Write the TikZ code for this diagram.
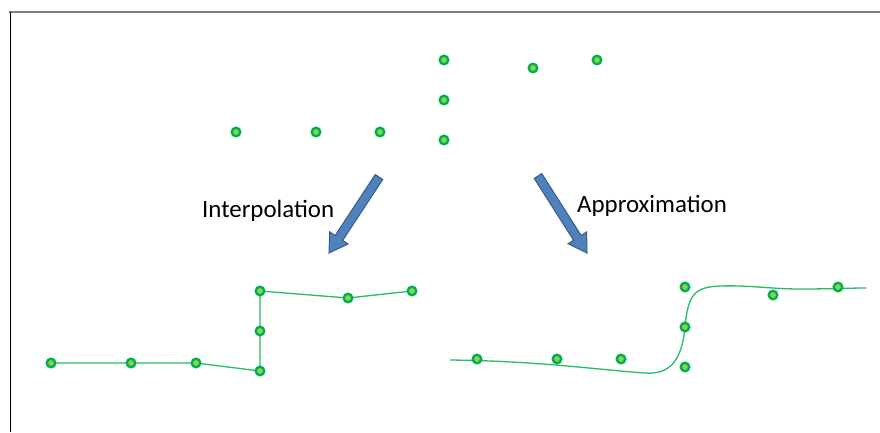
\documentclass[tikz,border=0pt]{standalone}
\usepackage{fontspec}
\setmainfont{Carlito}
\usetikzlibrary{calc}
\definecolor{dotfill}{HTML}{92D050}
\definecolor{dotedge}{HTML}{00B050}
\definecolor{arrfill}{HTML}{4F81BD}
\definecolor{arredge}{HTML}{385D8A}
\definecolor{framegray}{HTML}{7F7F7F}
\tikzset{
  dot/.style={circle,fill=dotfill,draw=dotedge,line width=2.4bp,minimum size=8.5bp,inner sep=0pt},
  greenline/.style={draw=dotedge!85!white,line width=1.3bp,line join=round},
  fatarrow/.style={fill=arrfill,draw=arredge,line width=1bp,line join=miter},
  label/.style={inner sep=0pt,anchor=base west,font=\fontsize{24.9bp}{30bp}\selectfont,text=black}
}
\newcommand\myfatarrow[2]{%
  \coordinate (hb) at ($(#2)!18bp!(#1)$);
  \filldraw[fatarrow] ($(#1)!4.5bp!90:(#2)$) -- ($(hb)!4.5bp!90:(#2)$) -- ($(hb)!11bp!90:(#2)$) -- (#2)
    -- ($(hb)!11bp!-90:(#2)$) -- ($(hb)!4.5bp!-90:(#2)$) -- ($(#1)!4.5bp!-90:(#2)$) -- cycle;
}
\begin{document}
\begin{tikzpicture}[x=1bp,y=-1bp]
\useasboundingbox (0,0) rectangle (880,432);
\fill[white] (0,0) rectangle (880,432);
% frame
\draw[framegray,line width=1.6bp] (9,12) -- (880,12);
\draw[black,line width=1bp] (10,12) -- (10,432);
% top points
\node[dot] (t1) at (236,132) {};
\node[dot] (t2) at (316,132) {};
\node[dot] (t3) at (380,132) {};
\node[dot] (t4) at (444,140) {};
\node[dot] (t5) at (444,100) {};
\node[dot] (t6) at (444,60) {};
\node[dot] (t7) at (533,68) {};
\node[dot] (t8) at (597,60) {};
% arrows
\coordinate (la) at (379,177);
\coordinate (lb) at (329,253);
\coordinate (ra) at (538,176);
\coordinate (rb) at (587,253);
\myfatarrow{la}{lb}
\myfatarrow{ra}{rb}
% labels
\node[label] (interp) at (202,217) {Interpolation};
\node[label] (approx) at (577,212) {Approximation};
% interpolation
\coordinate (i1) at (51,363);
\coordinate (i2) at (131,363);
\coordinate (i3) at (196,363);
\coordinate (i4) at (260,371);
\coordinate (i5) at (260,331);
\coordinate (i6) at (260,291);
\coordinate (i7) at (348,298);
\coordinate (i8) at (412,291);
\draw[greenline] (i1) -- (i2) -- (i3) -- (i4) -- (i5) -- (i6) -- (i7) -- (i8);
\foreach \k in {1,...,8} { \node[dot] (di\k) at (i\k) {}; }
% approximation
\draw[greenline] (450,360) .. controls (540,361) and (600,370) .. (645,373)
  .. controls (670,375) and (682,360) .. (685,327)
  .. controls (688,294) and (695,287) .. (720,286)
  .. controls (750,285) and (770,289) .. (800,289)
  .. controls (830,289) and (850,288) .. (866,288);
\node[dot] (a1) at (477,359) {};
\node[dot] (a2) at (557,359) {};
\node[dot] (a3) at (621,359) {};
\node[dot] (a4) at (685,367) {};
\node[dot] (a5) at (685,327) {};
\node[dot] (a6) at (685,287) {};
\node[dot] (a7) at (773,295) {};
\node[dot] (a8) at (838,287) {};
\end{tikzpicture}
\end{document}
